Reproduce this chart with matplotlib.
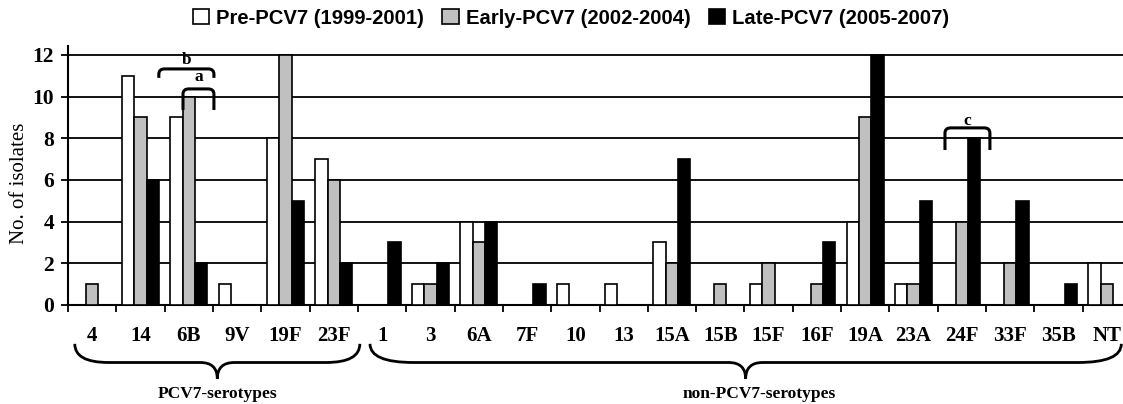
import numpy as np
import matplotlib
matplotlib.use("Agg")
import matplotlib.pyplot as plt
from matplotlib.path import Path
from matplotlib.patches import PathPatch, Patch
import matplotlib.transforms as mtransforms

serotypes = ["4", "14", "6B", "9V", "19F", "23F", "1", "3", "6A", "7F", "10", "13",
             "15A", "15B", "15F", "16F", "19A", "23A", "24F", "33F", "35B", "NT"]
pre_pcv7 = [0, 11, 9, 1, 8, 7, 0, 1, 4, 0, 1, 1, 3, 0, 1, 0, 4, 1, 0, 0, 0, 2]
early_pcv7 = [1, 9, 10, 0, 12, 6, 0, 1, 3, 0, 0, 0, 2, 1, 2, 1, 9, 1, 4, 2, 0, 1]
late_pcv7 = [0, 6, 2, 0, 5, 2, 3, 2, 4, 1, 0, 0, 7, 0, 0, 3, 12, 5, 8, 5, 1, 0]
series_names = ["Pre-PCV7 (1999-2001)", "Early-PCV7 (2002-2004)", "Late-PCV7 (2005-2007)"]

colors = ["white", "#c0c0c0", "black"]
serif = "Liberation Serif"
sans = "Liberation Sans"

fig = plt.figure(figsize=(11.23, 4.04), dpi=100)
ax = fig.add_axes([68 / 1123, 99 / 404, 1063 / 1123, 259 / 404])

x = np.arange(len(serotypes))
w = 0.255
for k, vals in enumerate([pre_pcv7, early_pcv7, late_pcv7]):
    ax.bar(x + (k - 1) * w, vals, w, color=colors[k], edgecolor="black",
           linewidth=1.2, zorder=3)

ax.set_xlim(-0.5, len(serotypes) - 0.5)
ax.set_ylim(0, 12.43)
ax.set_yticks(range(0, 13, 2))
ax.yaxis.grid(True, color="black", linewidth=1.3)
ax.set_axisbelow(True)
for s in ["top", "right"]:
    ax.spines[s].set_visible(False)
ax.spines["left"].set_linewidth(1.5)
ax.spines["bottom"].set_linewidth(1.5)

ax.set_xticks(x)
ax.set_xticklabels(serotypes, fontfamily=serif, fontweight="bold", fontsize=15)
ax.set_xticks(np.arange(-0.5, len(serotypes), 1), minor=True)
ax.tick_params(axis="x", which="major", length=0, pad=15)
ax.tick_params(axis="x", which="minor", length=5, width=1.3, direction="out")
ax.tick_params(axis="y", length=5, width=1.3, pad=5)
for lab in ax.get_yticklabels():
    lab.set_fontfamily(serif)
    lab.set_fontweight("bold")
    lab.set_fontsize(15.5)

fig.text(20 / 1123, 1 - 183 / 404, "No. of isolates", rotation=90, ha="center",
         va="center", fontfamily=serif, fontsize=15)

handles = [Patch(facecolor=c, edgecolor="black", linewidth=1.2) for c in colors]
fig.legend(handles, series_names, loc="center", bbox_to_anchor=(571 / 1123, 1 - 18 / 404),
           ncol=3, frameon=False, handlelength=0.8, handleheight=0.8,
           handletextpad=0.35, columnspacing=0.9,
           prop={"family": sans, "weight": "bold", "size": 14.6})

# significance brackets
def bracket(x0, x1, ytop, yend, label, ylab):
    rx, ry = 0.12, 0.25
    verts = [(x0, yend), (x0, ytop - ry), (x0, ytop), (x0 + rx, ytop),
             (x1 - rx, ytop), (x1, ytop), (x1, ytop - ry), (x1, yend)]
    codes = [Path.MOVETO, Path.LINETO, Path.CURVE3, Path.CURVE3,
             Path.LINETO, Path.CURVE3, Path.CURVE3, Path.LINETO]
    ax.add_patch(PathPatch(Path(verts, codes), fill=False, lw=2.2, zorder=5,
                           capstyle="butt"))
    ax.text((x0 + x1) / 2, ylab, label, ha="center", va="center",
            fontfamily=serif, fontweight="bold", fontsize=12.5, zorder=6)

bracket(1.38, 2.52, 11.33, 10.9, "b", 11.75)
bracket(1.88, 2.52, 10.37, 9.36, "a", 10.95)
bracket(17.65, 18.58, 8.5, 7.44, "c", 8.85)

# group braces below the axis
trans = mtransforms.blended_transform_factory(ax.transData, ax.transAxes)

def brace(x0, x1, ytop, ymid, ytip, d, d2):
    xm = (x0 + x1) / 2
    verts = [(x0, ytop), (x0, ymid), (x0 + d, ymid), (xm - d2, ymid),
             (xm, ymid), (xm, ytip), (xm, ymid), (xm + d2, ymid),
             (x1 - d, ymid), (x1, ymid), (x1, ytop)]
    codes = [Path.MOVETO, Path.CURVE3, Path.CURVE3, Path.LINETO,
             Path.CURVE3, Path.CURVE3, Path.CURVE3, Path.CURVE3,
             Path.LINETO, Path.CURVE3, Path.CURVE3]
    ax.add_patch(PathPatch(Path(verts, codes), fill=False, lw=2.0,
                           transform=trans, clip_on=False))

brace(-0.36, 5.54, -0.15, -0.222, -0.285, 0.7, 0.35)
brace(5.75, 21.3, -0.15, -0.222, -0.285, 0.9, 0.35)

ax.text(2.59, -0.345, "PCV7-serotypes", transform=trans, ha="center", va="center",
        fontfamily=serif, fontweight="bold", fontsize=12.5)
ax.text(13.8, -0.345, "non-PCV7-serotypes", transform=trans, ha="center", va="center",
        fontfamily=serif, fontweight="bold", fontsize=12.5)

fig.savefig("out.png", dpi=100)
